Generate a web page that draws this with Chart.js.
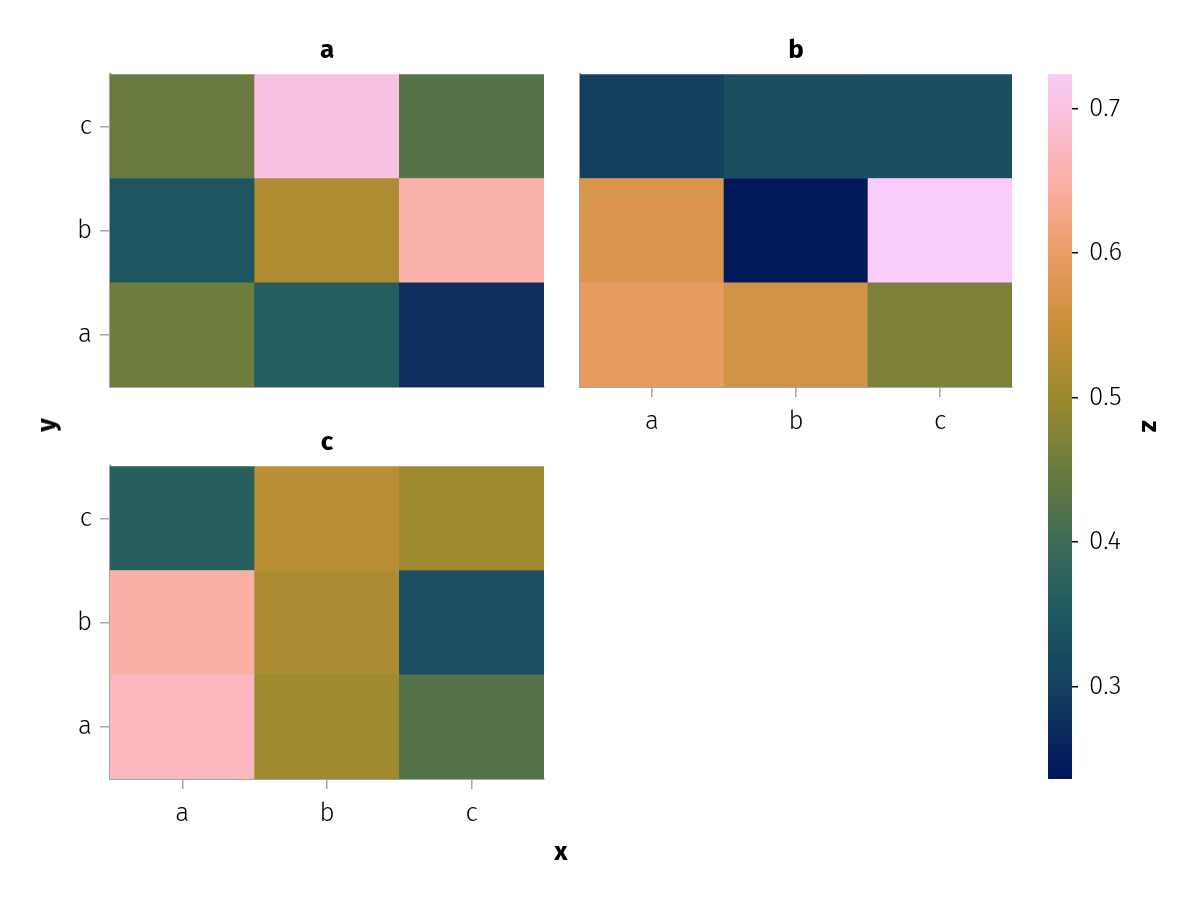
<!DOCTYPE html>
<html>
<head>
<meta charset="utf-8">
<script src="https://cdn.jsdelivr.net/npm/chart.js@4/dist/chart.umd.min.js"></script>
<style>
  body { margin: 0; background: #fff; }
  #wrap { position: relative; width: 1200px; height: 900px; font-family: 'Fira Sans', 'Open Sans', 'Noto Sans', sans-serif; }
  canvas { position: absolute; }
  .lbl { position: absolute; font-weight: 700; font-size: 26px; color: #000; line-height: 1; }
</style>
</head>
<body>
<div id="wrap">
  <canvas id="panelA" style="left:0;top:0" width="560" height="411"></canvas>
  <canvas id="panelB" style="left:560px;top:0" width="470" height="450"></canvas>
  <canvas id="panelC" style="left:0;top:400px" width="560" height="500"></canvas>
  <canvas id="cbar" style="left:1030px;top:0" width="170" height="900"></canvas>
  <div class="lbl" style="left:561px;top:852px;transform:translate(-50%,-50%)">x</div>
  <div class="lbl" style="left:47px;top:425px;transform:translate(-50%,-50%) rotate(-90deg)">y</div>
</div>
<script>
const xCats = ['a', 'b', 'c'];
const yCats = ['a', 'b', 'c'];

// rows go y = a, b, c ; columns x = a, b, c
const zPanelA = [
    [0.453, 0.360, 0.275],
    [0.345, 0.519, 0.655],
    [0.447, 0.700, 0.426]
];
const zPanelB = [
    [0.595, 0.563, 0.467],
    [0.571, 0.236, 0.724],
    [0.298, 0.330, 0.328]
];
const zPanelC = [
    [0.670, 0.503, 0.425],
    [0.650, 0.518, 0.332],
    [0.365, 0.532, 0.504]
];
const zTicks = [0.3, 0.4, 0.5, 0.6, 0.7];

const allZ = [zPanelA, zPanelB, zPanelC].flat(2);
const zMin = Math.min(...allZ);
const zMax = Math.max(...allZ);

// batlow-like colormap, stops in 0..1
const cmap = [
    [0.000, '#011959'], [0.029, '#061e5c'], [0.131, '#15405f'], [0.234, '#1e5961'],
    [0.336, '#3d6b57'], [0.439, '#6b7b3d'], [0.541, '#9c8a2e'], [0.643, '#c99038'],
    [0.746, '#ec9c66'], [0.848, '#fbb0a6'], [0.951, '#f9c2e2'], [1.000, '#f9ccf9']
];

function hexToRgb(h) {
    return [1, 3, 5].map(i => parseInt(h.slice(i, i + 2), 16));
}

function colorFor(v) {
    const t = Math.max(0, Math.min(1, (v - zMin) / (zMax - zMin)));
    for (let i = 1; i < cmap.length; i++) {
        if (t <= cmap[i][0]) {
            const [t0, c0] = cmap[i - 1];
            const [t1, c1] = cmap[i];
            const f = (t - t0) / (t1 - t0);
            const a = hexToRgb(c0), b = hexToRgb(c1);
            const rgb = a.map((x, k) => Math.round(x + (b[k] - x) * f));
            return 'rgb(' + rgb.join(',') + ')';
        }
    }
    return cmap[cmap.length - 1][1];
}

const FONT = "'Fira Sans', 'Open Sans', 'Noto Sans', sans-serif";
const GREY = '#a6a6a6';
const tickFont = { family: FONT, size: 26, weight: '300' };

function makeHeatmap(id, title, z, o) {
    const datasets = yCats.map((yc, r) => ({
        label: yc,
        data: xCats.map(() => [r + 0.5, r + 1.5]),
        backgroundColor: z[r].map(colorFor),
        borderWidth: 0,
        barPercentage: 1,
        categoryPercentage: 1,
        grouped: false
    }));
    return new Chart(document.getElementById(id), {
        type: 'bar',
        data: { labels: xCats, datasets: datasets },
        options: {
            responsive: false,
            animation: false,
            layout: { padding: { top: o.padTop, right: o.padRight, left: 0, bottom: 0 } },
            plugins: {
                legend: { display: false },
                tooltip: { enabled: false },
                title: {
                    display: true,
                    fullSize: false,
                    text: title,
                    font: { family: FONT, size: 26, weight: 'bold' },
                    color: '#000',
                    padding: { top: 0, bottom: o.titleGap }
                }
            },
            scales: {
                x: {
                    z: 1,
                    grid: { display: o.showX, offset: false, drawOnChartArea: false, tickLength: 10, color: GREY, lineWidth: 1.5 },
                    border: { display: true, color: GREY, width: 2 },
                    ticks: { display: o.showX, font: tickFont, color: '#000', padding: 9, maxRotation: 0 },
                    afterFit: s => { s.height = o.xHeight; }
                },
                y: {
                    z: 1,
                    min: 0.5,
                    max: 3.5,
                    grid: { display: o.showY, drawOnChartArea: false, tickLength: 10, color: GREY, lineWidth: 1.5 },
                    border: { display: true, color: GREY, width: 2 },
                    ticks: { display: o.showY, font: tickFont, color: '#000', padding: 8, callback: v => yCats[v - 1] },
                    afterBuildTicks: s => { s.ticks = yCats.map((c, i) => ({ value: i + 1 })); },
                    afterFit: s => { s.width = o.yWidth; }
                }
            }
        }
    });
}

makeHeatmap('panelA', 'a', zPanelA, { showX: false, showY: true, xHeight: 24, yWidth: 110, padTop: 35, padRight: 16, titleGap: 8 });
makeHeatmap('panelB', 'b', zPanelB, { showX: true, showY: false, xHeight: 63, yWidth: 20, padTop: 35, padRight: 18, titleGap: 8 });
makeHeatmap('panelC', 'c', zPanelC, { showX: true, showY: true, xHeight: 121, yWidth: 110, padTop: 27, padRight: 16, titleGap: 8 });

new Chart(document.getElementById('cbar'), {
    type: 'bar',
    data: {
        labels: ['z'],
        datasets: [{
            data: [[zMin, zMax]],
            borderWidth: 0,
            barPercentage: 1,
            categoryPercentage: 1,
            backgroundColor: ctx => {
                const area = ctx.chart.chartArea;
                if (!area) return null;
                const g = ctx.chart.ctx.createLinearGradient(0, area.bottom, 0, area.top);
                cmap.forEach(([t, c]) => g.addColorStop(t, c));
                return g;
            }
        }]
    },
    options: {
        responsive: false,
        animation: false,
        layout: { padding: { top: 74, bottom: 121, left: 18, right: 35 } },
        plugins: { legend: { display: false }, tooltip: { enabled: false } },
        scales: {
            x: { display: false },
            y: {
                position: 'right',
                min: zMin,
                max: zMax,
                grid: { drawOnChartArea: false, tickLength: 6, color: '#000', lineWidth: 1.5 },
                border: { display: false },
                ticks: { font: tickFont, color: '#000', padding: 11, callback: v => v.toFixed(1) },
                afterBuildTicks: s => { s.ticks = zTicks.map(v => ({ value: v })); },
                title: { display: true, text: 'z', font: { family: FONT, size: 26, weight: 'bold' }, color: '#000', padding: 0 },
                afterFit: s => { s.width = 93; }
            }
        }
    }
});
</script>
</body>
</html>
